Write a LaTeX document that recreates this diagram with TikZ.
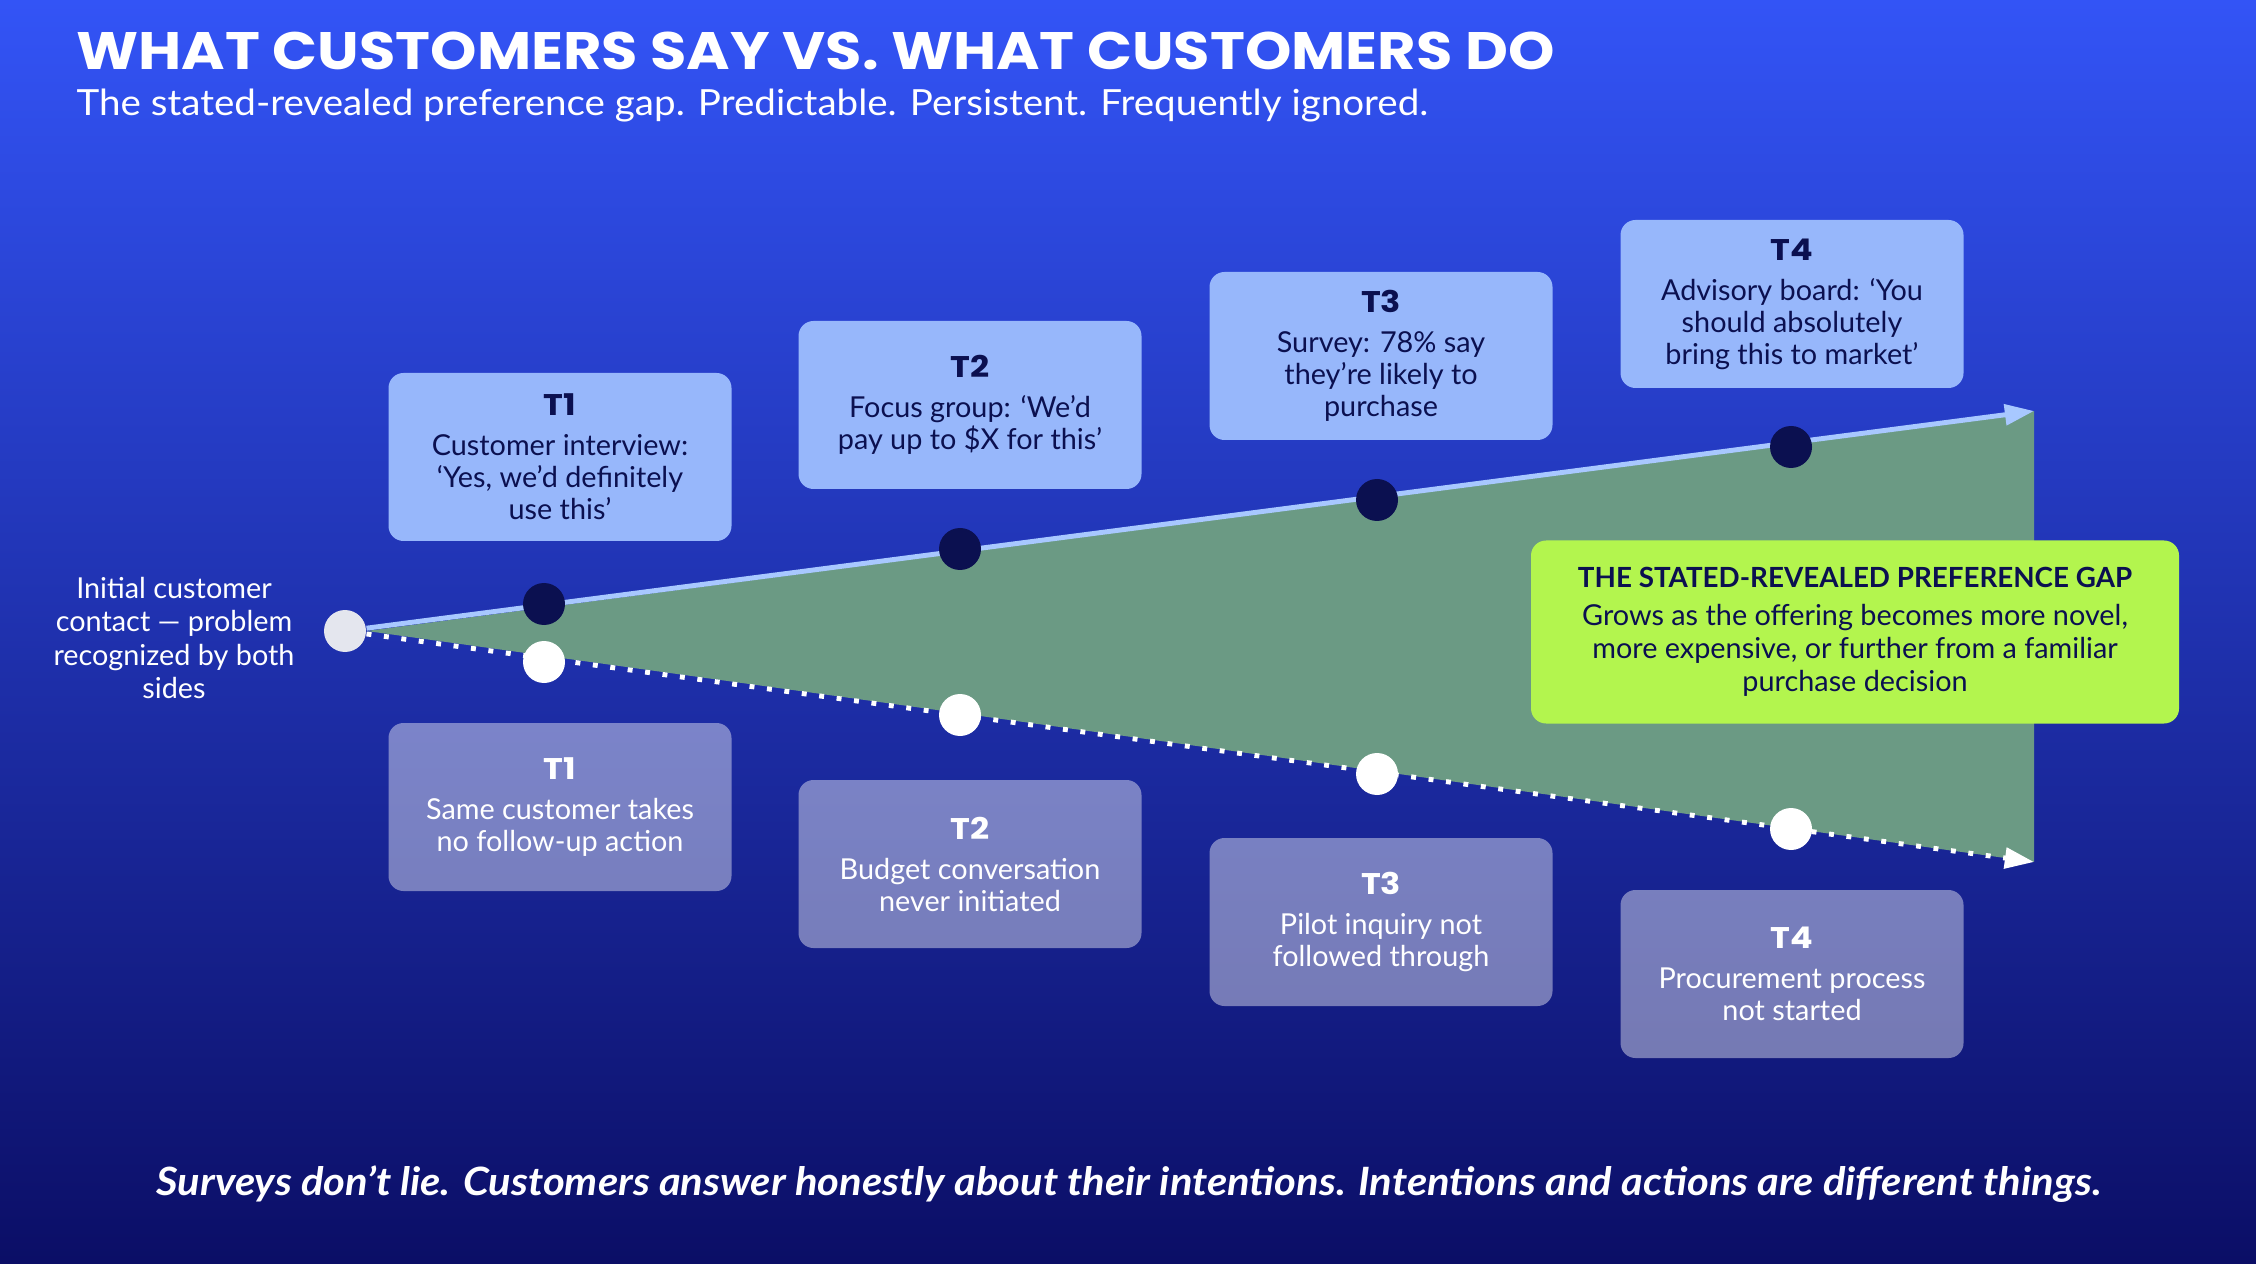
\documentclass[tikz,border=0pt]{standalone}
\usepackage{fontspec}
\setmainfont{Lato}
\newfontfamily\headfont[FakeStretch=1.12]{Poppins}
\newfontfamily\widefont[FakeStretch=1.07]{Lato}
\usetikzlibrary{arrows.meta,positioning}

\definecolor{bgtop}{HTML}{3354F6}
\definecolor{bgmid}{HTML}{1F2DBE}
\definecolor{bgbot}{HTML}{0B0E66}
\definecolor{sayblue}{HTML}{97B7FB}
\definecolor{navy}{HTML}{0B1050}
\definecolor{saidblue}{HTML}{A8C8FF}
\definecolor{gapgreen}{HTML}{6B9A84}
\definecolor{lime}{HTML}{B3F54E}
\definecolor{startgrey}{HTML}{E4E6EE}

\newcommand{\tlabel}[1]{{\headfont\bfseries\fontsize{8.5}{9.1}\selectfont #1}\\[2.3pt]}

\begin{document}
\begin{tikzpicture}[
    x=0.1mm, y=-0.1mm,
    saybox/.style={rectangle, rounded corners=1.5mm, fill=sayblue, text=navy, align=center, minimum width=34.3mm, minimum height=16.8mm, inner sep=0pt, font=\fontsize{8.2}{9.1}\selectfont},
    didbox/.style={saybox, fill=white, fill opacity=0.42, text opacity=1, text=white},
    gapbox/.style={rectangle, rounded corners=1.5mm, fill=lime, text=navy, align=center, minimum width=64.8mm, minimum height=18.3mm, inner sep=0pt, font=\fontsize{8.2}{9.4}\selectfont},
    saidline/.style={draw=saidblue, line width=1.4pt, -{Triangle[length=8.3pt,width=5.8pt]}},
    didline/.style={draw=white, line width=1.4pt, dash pattern=on 1.4pt off 3.6pt, -{Triangle[length=8.3pt,width=5.8pt]}},
    saydot/.style={circle, fill=navy, minimum size=4.2mm, inner sep=0pt},
    diddot/.style={circle, fill=white, minimum size=4.2mm, inner sep=0pt},
    startdot/.style={circle, fill=startgrey, minimum size=4.2mm, inner sep=0pt},
]

\shade [top color=bgtop, middle color=bgmid, bottom color=bgbot] (0,0) rectangle (2256,1264);
\useasboundingbox (0,0) rectangle (2256,1264);

% heading
\node (title) [anchor=base west, text=white, font=\headfont\bfseries\fontsize{15}{18}\selectfont, inner sep=0pt] at (76,70) {WHAT CUSTOMERS SAY VS. WHAT CUSTOMERS DO};
\node (subtitle) [anchor=base west, text=white, font=\widefont\fontsize{10.25}{12}\selectfont, inner sep=0pt] at (76,116) {The stated-revealed preference gap. Predictable. Persistent. Frequently ignored.};

% the two paths and the gap between them
\node (start) [startdot] at (345,631) {};
\coordinate (saidEnd) at (2034,411);
\coordinate (didEnd) at (2034,862);

\fill [gapgreen] (start.east) -- (saidEnd) -- (didEnd) -- cycle;
\draw [saidline] (start) -- (saidEnd);
\draw [didline] (start) -- (didEnd);

\node (say1) [saydot] at (544,604) {};
\node (say2) [saydot] at (960,549) {};
\node (say3) [saydot] at (1377,500) {};
\node (say4) [saydot] at (1791,447) {};

\node (did1) [diddot] at (544,662) {};
\node (did2) [diddot] at (960,715) {};
\node (did3) [diddot] at (1377,774) {};
\node (did4) [diddot] at (1791,829) {};

\node (contact) [text=white, align=center, font=\fontsize{8.2}{9.4}\selectfont] at (174,638) {Initial customer\\contact — problem\\recognized by both\\sides};

% what they say
\node (sayT1) [saybox] at (560,457) {\tlabel{T1}Customer interview:\\‘Yes, we’d definitely\\use this’};
\node (sayT2) [saybox] at (970,405) {\tlabel{T2}Focus group: ‘We’d\\pay up to \$X for this’};
\node (sayT3) [saybox] at (1381,356) {\tlabel{T3}Survey: 78\% say\\they’re likely to\\purchase};
\node (sayT4) [saybox] at (1792,304) {\tlabel{T4}Advisory board: ‘You\\should absolutely\\bring this to market’};

% what they do
\node (didT1) [didbox] at (560,807) {\tlabel{T1}Same customer takes\\no follow-up action};
\node (didT2) [didbox] at (970,864) {\tlabel{T2}Budget conversation\\never initiated};
\node (didT3) [didbox] at (1381,922) {\tlabel{T3}Pilot inquiry not\\followed through};
\node (didT4) [didbox] at (1792,974) {\tlabel{T4}Procurement process\\not started};

\node (gapnote) [gapbox] at (1855,632) {{\bfseries\fontsize{7.9}{9.4}\selectfont THE STATED-REVEALED PREFERENCE GAP}\\[1.4pt]Grows as the offering becomes more novel,\\more expensive, or further from a familiar\\purchase decision};

\node (tagline) [anchor=base, text=white, font=\widefont\bfseries\itshape\fontsize{11.1}{13}\selectfont, inner sep=0pt] at (1129,1195) {Surveys don’t lie. Customers answer honestly about their intentions. Intentions and actions are different things.};

\end{tikzpicture}
\end{document}
